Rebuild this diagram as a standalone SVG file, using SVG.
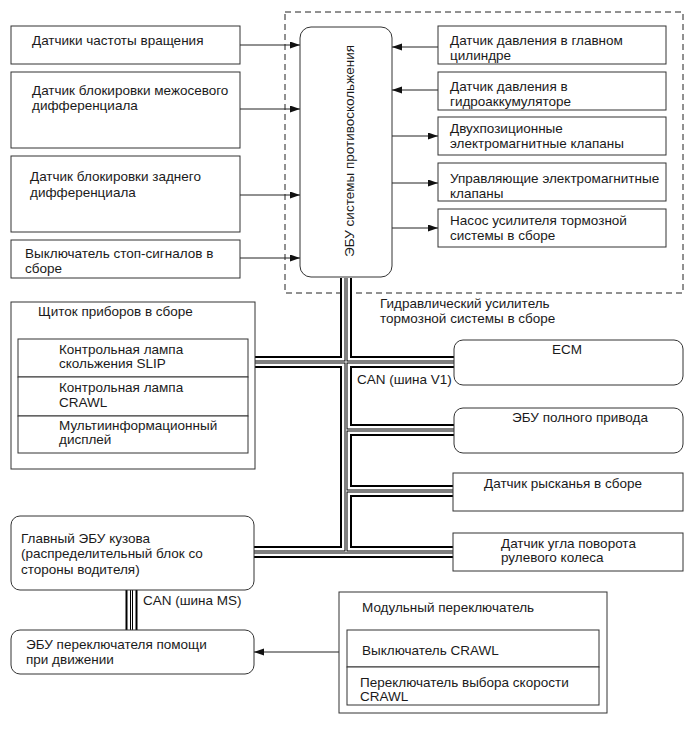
<svg xmlns="http://www.w3.org/2000/svg" xmlns:xlink="http://www.w3.org/1999/xlink" width="690" height="756" viewBox="0 0 690 756">
<defs>
<style>
.box{fill:#fff;stroke:#333;stroke-width:1}
.t{font-family:"Liberation Sans",Arial,sans-serif;font-size:13.5px;fill:#1a1a1a}
.m{text-anchor:middle}
.arr{stroke:#222;stroke-width:1;fill:none;marker-end:url(#ah)}
.b1{fill:none;stroke:#000;stroke-width:12}
.b2{fill:none;stroke:#fff;stroke-width:8}
.b3{fill:none;stroke:#000;stroke-width:3}
.b4{fill:none;stroke:#fff;stroke-width:1}
</style>
<marker id="ah" markerUnits="userSpaceOnUse" markerWidth="10" markerHeight="8" refX="10" refY="3.5" orient="auto">
<path d="M0,0 L10,3.5 L0,7 z" fill="#111"/>
</marker>
<path id="bus" d="M346,278 V552 M255,362 H454 M346,430 H454 M346,491 H453 M254,552 H453 M131.5,590 V630"/>
</defs>
<rect width="690" height="756" fill="#fff"/>

<rect x="285" y="12" width="398" height="281" fill="none" stroke="#222" stroke-width="1" stroke-dasharray="6,4"/>

<g id="connectors">
<use xlink:href="#bus" class="b1"/>
<use xlink:href="#bus" class="b2"/>
<use xlink:href="#bus" class="b3"/>
<use xlink:href="#bus" class="b4"/>
<line class="arr" x1="240" y1="45" x2="300" y2="45"/>
<line class="arr" x1="240" y1="109" x2="300" y2="109"/>
<line class="arr" x1="240" y1="195" x2="300" y2="195"/>
<line class="arr" x1="240" y1="258" x2="300" y2="258"/>
<line class="arr" x1="438" y1="47" x2="392" y2="47"/>
<line class="arr" x1="438" y1="90" x2="392" y2="90"/>
<line class="arr" x1="392" y1="136" x2="438" y2="136"/>
<line class="arr" x1="392" y1="183" x2="438" y2="183"/>
<line class="arr" x1="392" y1="228" x2="438" y2="228"/>
<line class="arr" x1="339" y1="652" x2="254" y2="652"/>
</g>

<g id="ecu-vsc">
<rect class="box" x="300" y="27" width="92" height="250" rx="11"/>
<text class="t m" transform="translate(354,151) rotate(-90)">ЭБУ системы противоскольжения</text>
</g>

<g id="speed-sensors">
<rect class="box" x="11" y="26" width="229" height="38"/>
<text class="t" x="32" y="45">Датчики частоты вращения</text>
</g>
<g id="center-diff-lock">
<rect class="box" x="11" y="72" width="229" height="76"/>
<text class="t" x="32" y="94.5">Датчик блокировки межосевого</text>
<text class="t" x="32" y="110">дифференциала</text>
</g>
<g id="rear-diff-lock">
<rect class="box" x="11" y="156" width="229" height="76"/>
<text class="t" x="30" y="180.5">Датчик блокировки заднего</text>
<text class="t" x="30" y="196.5">дифференциала</text>
</g>
<g id="stop-switch">
<rect class="box" x="11" y="240" width="229" height="38"/>
<text class="t" x="25" y="257.5">Выключатель стоп-сигналов в</text>
<text class="t" x="25" y="272.5">сборе</text>
</g>

<g id="master-cyl">
<rect class="box" x="438" y="26" width="228" height="38"/>
<text class="t" x="450" y="44.5">Датчик давления в главном</text>
<text class="t" x="450" y="60">цилиндре</text>
</g>
<g id="accumulator">
<rect class="box" x="438" y="72" width="228" height="38"/>
<text class="t" x="450" y="90.5">Датчик давления в</text>
<text class="t" x="450" y="105.5">гидроаккумуляторе</text>
</g>
<g id="two-pos-valves">
<rect class="box" x="438" y="117" width="228" height="38"/>
<text class="t" x="450" y="132.5">Двухпозиционные</text>
<text class="t" x="450" y="147.5">электромагнитные клапаны</text>
</g>
<g id="control-valves">
<rect class="box" x="438" y="163" width="228" height="38"/>
<text class="t" x="450" y="182.5">Управляющие электромагнитные</text>
<text class="t" x="450" y="197.5">клапаны</text>
</g>
<g id="pump">
<rect class="box" x="438" y="209" width="228" height="38"/>
<text class="t" x="450" y="224.5">Насос усилителя тормозной</text>
<text class="t" x="450" y="239.5">системы в сборе</text>
</g>

<g id="booster-label">
<text class="t" x="380" y="307.5">Гидравлический усилитель</text>
<text class="t" x="380" y="322.5">тормозной системы в сборе</text>
</g>

<g id="cluster">
<rect class="box" x="11" y="302" width="244" height="167"/>
<text class="t" x="38" y="315.5">Щиток приборов в сборе</text>
<rect class="box" x="18" y="339" width="230" height="38"/>
<rect class="box" x="18" y="377" width="230" height="39"/>
<rect class="box" x="18" y="416" width="230" height="37"/>
<text class="t" x="59" y="354">Контрольная лампа</text>
<text class="t" x="59" y="368">скольжения SLIP</text>
<text class="t" x="59" y="392">Контрольная лампа</text>
<text class="t" x="59" y="407">CRAWL</text>
<text class="t" x="59" y="429.5">Мультиинформационный</text>
<text class="t" x="59" y="443.5">дисплей</text>
</g>

<g id="can-v1-label">
<text class="t" x="357" y="383.5">CAN (шина V1)</text>
</g>

<g id="ecm">
<rect class="box" x="454" y="340" width="229" height="45" rx="9"/>
<text class="t m" x="567" y="353.5">ECM</text>
</g>
<g id="ecu-4wd">
<rect class="box" x="454" y="408" width="229" height="45" rx="9"/>
<text class="t m" x="580" y="421.5">ЭБУ полного привода</text>
</g>
<g id="yaw">
<rect class="box" x="453" y="473" width="230" height="38"/>
<text class="t m" x="563" y="487.5">Датчик рысканья в сборе</text>
</g>
<g id="steering">
<rect class="box" x="453" y="533" width="230" height="38"/>
<text class="t" x="501" y="547.5">Датчик угла поворота</text>
<text class="t" x="501" y="561.5">рулевого колеса</text>
</g>

<g id="body-ecu">
<rect class="box" x="11" y="516" width="243" height="74" rx="9"/>
<text class="t" x="21" y="542.5">Главный ЭБУ кузова</text>
<text class="t" x="21" y="558">(распределительный блок со</text>
<text class="t" x="21" y="573.5">стороны водителя)</text>
</g>
<g id="can-ms-label">
<text class="t" x="143" y="604.5">CAN (шина MS)</text>
</g>
<g id="drive-assist-ecu">
<rect class="box" x="11" y="630" width="243" height="44" rx="9"/>
<text class="t" x="26" y="648.5">ЭБУ переключателя помощи</text>
<text class="t" x="26" y="663.5">при движении</text>
</g>

<g id="modular-switch">
<rect class="box" x="339" y="592" width="268" height="121"/>
<text class="t" x="362" y="611.5">Модульный переключатель</text>
<rect class="box" x="347" y="630" width="252" height="37"/>
<rect class="box" x="347" y="667" width="252" height="38"/>
<text class="t" x="362" y="654.5">Выключатель CRAWL</text>
<text class="t" x="360" y="686.5">Переключатель выбора скорости</text>
<text class="t" x="360" y="700.5">CRAWL</text>
</g>
</svg>
